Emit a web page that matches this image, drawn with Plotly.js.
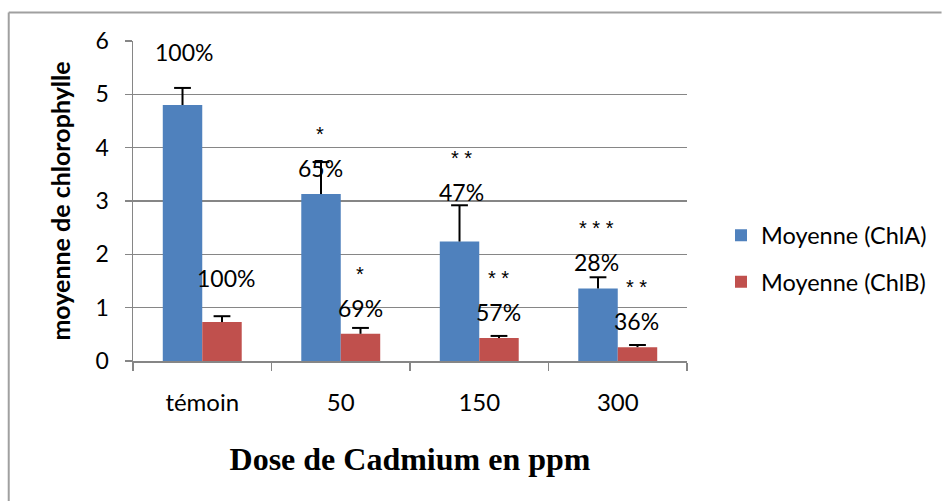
<!DOCTYPE html>
<html>
<head>
<meta charset="utf-8">
<script src="https://cdn.plot.ly/plotly-3.0.1.min.js"></script>
<style>
html,body{margin:0;padding:0;background:#fff;}
#chart{width:943px;height:501px;}
</style>
</head>
<body>
<div id="chart"></div>
<script>
// Data
const categories = ["témoin", "50", "150", "300"];
const chlA = [4.80, 3.13, 2.24, 1.36];
const chlAErr = [0.32, 0.60, 0.68, 0.21];
const chlB = [0.73, 0.51, 0.43, 0.26];
const chlBErr = [0.11, 0.11, 0.04, 0.04];
const pctA = ["100%", "65%", "47%", "28%"];
const pctB = ["100%", "69%", "57%", "36%"];
const starsA = ["", "*", "* *", "* * *"];
const starsB = ["", "*", "* *", "* *"];

// label positions (data units)
const pctAY = [5.79, 3.62, 3.17, 1.86];
const pctBY = [1.56, 0.99, 0.92, 0.75];
const starAY = [0, 4.25, 3.80, 2.49];
const starBY = [0, 1.64, 1.55, 1.38];
const offA = [-0.133, -0.147, -0.126, -0.155];
const offB = [0.17, 0.14, 0.14, 0.133];

const FAM = "Lato, 'Open Sans', sans-serif";
const pctFont = {family: FAM, size: 23, color: "#000"};
const starFont = {family: "'Liberation Sans', Arial, sans-serif", size: 20, color: "#000"};

const topsA = chlA.map((v, i) => v + chlAErr[i]);
const topsB = chlB.map((v, i) => v + chlBErr[i]);

const traceA = {
  type: "bar", name: "Moyenne (ChlA)", x: categories, y: chlA,
  marker: {color: "#4F81BD"},
  error_y: {type: "data", array: chlAErr, arrayminus: chlA.map(()=>0), symmetric: false, color: "#000", thickness: 2, width: 0},
  legendgroup: "a", offsetgroup: "A"
};
const traceB = {
  type: "bar", name: "Moyenne (ChlB)", x: categories, y: chlB,
  marker: {color: "#C0504D"},
  error_y: {type: "data", array: chlBErr, arrayminus: chlB.map(()=>0), symmetric: false, color: "#000", thickness: 2, width: 0},
  legendgroup: "b", offsetgroup: "B"
};
// error-bar caps
const capA = {
  type: "scatter", mode: "markers", x: categories, y: topsA, showlegend: false, offsetgroup: "A",
  marker: {symbol: "line-ew", size: 12, line: {color: "#000", width: 2}}, hoverinfo: "skip"
};
const capB = {
  type: "scatter", mode: "markers", x: categories, y: topsB, showlegend: false, offsetgroup: "B",
  marker: {symbol: "line-ew", size: 12, line: {color: "#000", width: 2}}, hoverinfo: "skip"
};

const annotations = [];
categories.forEach((c, i) => {
  annotations.push({x: i + offA[i], y: pctAY[i], xref: "x", yref: "y", text: pctA[i], showarrow: false, font: pctFont});
  annotations.push({x: i + offB[i], y: pctBY[i], xref: "x", yref: "y", text: pctB[i], showarrow: false, font: pctFont});
  if (starsA[i]) annotations.push({x: i + offA[i], y: starAY[i], xref: "x", yref: "y", text: starsA[i], showarrow: false, font: starFont});
  if (starsB[i]) annotations.push({x: i + offB[i], y: starBY[i], xref: "x", yref: "y", text: starsB[i], showarrow: false, font: starFont});
});

const L = 133, R = 688, T = 41, B = 361;
const px = v => (v - L) / (R - L);
const py = v => (B - v) / (B - T);

const layout = {
  width: 943, height: 501,
  margin: {l: L, r: 943 - R, t: T, b: 501 - B},
  paper_bgcolor: "#fff", plot_bgcolor: "#fff",
  font: pctFont,
  barmode: "group", scattermode: "group",
  bargap: 0.43, bargroupgap: 0, scattergap: 0.43,
  showlegend: true,
  legend: {x: px(721), y: py(259), xanchor: "left", yanchor: "middle", font: {family: FAM, size: 23.5, color: "#000"}, tracegroupgap: 13, itemwidth: 30, bgcolor: "rgba(0,0,0,0)"},
  xaxis: {
    type: "category", tickson: "boundaries", ticks: "outside", ticklen: 8, tickcolor: "#868686", tickwidth: 1.5,
    showline: true, linecolor: "#868686", linewidth: 1.5, showgrid: false,
    tickfont: {family: FAM, size: 24, color: "#000"}, ticklabelstandoff: 20,
    title: {text: "Dose de Cadmium en ppm", font: {family: "'Liberation Serif', 'Times New Roman', serif", size: 32, color: "#000", weight: "bold"}, standoff: 32}
  },
  yaxis: {
    range: [0, 6], dtick: 1, ticks: "outside", ticklen: 7, tickcolor: "#868686", tickwidth: 1.5,
    showline: true, linecolor: "#868686", linewidth: 1.5,
    showgrid: true, gridcolor: "#868686", gridwidth: 1.5, zeroline: false,
    tickfont: {family: FAM, size: 23, color: "#000"}, ticklabelstandoff: 11,
    title: {text: "moyenne de chlorophylle", font: {family: FAM, size: 25, color: "#000", weight: "bold"}, standoff: 18}
  },
  annotations: annotations,
  shapes: [
    {type: "line", xref: "paper", yref: "paper", x0: px(8.5), x1: px(943), y0: py(12.5), y1: py(12.5), line: {color: "#a0a0a0", width: 2}},
    {type: "line", xref: "paper", yref: "paper", x0: px(8.5), x1: px(8.5), y0: py(12.5), y1: py(501), line: {color: "#a0a0a0", width: 2}}
  ]
};

Plotly.newPlot("chart", [traceA, traceB, capA, capB], layout, {displayModeBar: false, staticPlot: true});
</script>
</body>
</html>
